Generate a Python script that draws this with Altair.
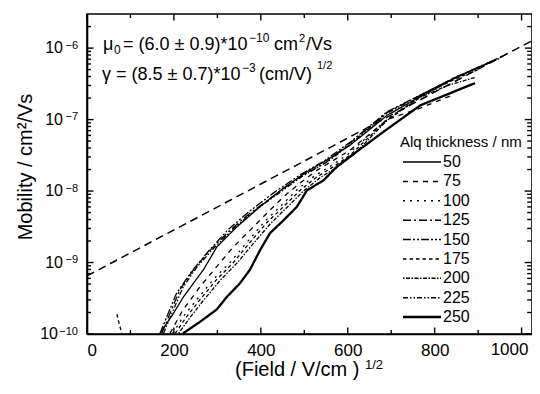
import altair as alt
import pandas as pd

FONT = "Liberation Sans"

thickness = ["50", "75", "100", "125", "150", "175", "200", "225", "250"]

field_50 = [168, 199, 222, 245, 268, 299, 345, 398, 452, 506, 559, 605, 691, 767, 843, 940]
mu_50 = [1.02e-10, 1.95e-10, 3.31e-10, 5.13e-10, 7.94e-10, 1.66e-9, 3.16e-9, 6.03e-9, 1.1e-8, 1.86e-8, 2.88e-8, 4.37e-8, 1.15e-7, 2.1e-7, 3.7e-7, 6.9e-7]

field_75 = [191, 221, 260, 298, 337, 375, 414, 452, 490, 529, 567, 605, 691, 767, 836]
mu_75 = [1.02e-10, 2.19e-10, 4.57e-10, 8.71e-10, 1.66e-9, 2.82e-9, 4.9e-9, 8.3e-9, 1.29e-8, 1.95e-8, 2.69e-8, 3.72e-8, 1.0e-7, 1.45e-7, 2.14e-7]

field_100 = [197, 223, 254, 292, 331, 369, 408, 446, 484, 523, 561, 600, 691, 767, 843, 921, 960]
mu_100 = [1.02e-10, 1.8e-10, 3.1e-10, 5.9e-10, 1.03e-9, 1.95e-9, 3.7e-9, 6.2e-9, 1.05e-8, 1.62e-8, 2.25e-8, 3.25e-8, 1.02e-7, 2.12e-7, 3.65e-7, 6.05e-7, 7.9e-7]

field_125 = [172, 214, 245, 283, 329, 375, 437, 490, 552, 605, 691, 767, 843, 921, 967]
mu_125 = [1.02e-10, 4.2e-10, 7.9e-10, 1.48e-9, 2.82e-9, 4.9e-9, 9.3e-9, 1.58e-8, 2.57e-8, 4.68e-8, 1.26e-7, 2.19e-7, 3.8e-7, 6.17e-7, 8.3e-7]

field_150 = [168, 205, 240, 280, 325, 372, 430, 488, 548, 605, 690, 770, 850, 950]
mu_150 = [1.02e-10, 3.6e-10, 7.4e-10, 1.45e-9, 2.9e-9, 5.1e-9, 9.5e-9, 1.65e-8, 2.7e-8, 4.8e-8, 1.28e-7, 2.25e-7, 3.95e-7, 7.2e-7]

field_175 = [203, 229, 260, 298, 337, 375, 414, 452, 490, 529, 567, 605, 691, 767, 843, 900]
mu_175 = [1.02e-10, 1.74e-10, 3.02e-10, 5.75e-10, 1.0e-9, 1.91e-9, 3.63e-9, 6.03e-9, 1.02e-8, 1.58e-8, 2.19e-8, 3.16e-8, 1.0e-7, 2.08e-7, 3.6e-7, 5.0e-7]
field_175_low = [69, 72, 76, 80, 83]
mu_175_low = [1.9e-10, 1.55e-10, 1.25e-10, 1.05e-10, 0.9e-10]

field_200 = [211, 237, 268, 306, 345, 383, 422, 460, 498, 537, 575, 613, 691, 767, 830, 893]
mu_200 = [1.02e-10, 1.7e-10, 2.95e-10, 5.6e-10, 9.8e-10, 1.85e-9, 3.5e-9, 5.9e-9, 1.0e-8, 1.55e-8, 2.15e-8, 3.2e-8, 9.8e-8, 2.05e-7, 3.0e-7, 3.89e-7]

field_225 = [176, 220, 252, 290, 335, 380, 440, 495, 555, 605, 690, 765, 840, 930]
mu_225 = [1.02e-10, 4.4e-10, 8.5e-10, 1.55e-9, 2.9e-9, 5.0e-9, 9.2e-9, 1.6e-8, 2.6e-8, 4.5e-8, 1.22e-7, 2.15e-7, 3.7e-7, 6.4e-7]

field_250 = [221, 260, 298, 322, 352, 375, 398, 421, 452, 483, 506, 544, 575, 605, 680, 767, 840, 893]
mu_250 = [1.02e-10, 1.48e-10, 2.19e-10, 3.31e-10, 5.13e-10, 7.94e-10, 1.48e-9, 2.57e-9, 3.89e-9, 6.03e-9, 1.02e-8, 1.41e-8, 2.19e-8, 3.02e-8, 6.6e-8, 1.58e-7, 2.4e-7, 3.24e-7]

fit_field = [0, 1040]
fit_mu = [6.5e-10, 1.43e-6]

x_major = [0, 200, 400, 600, 800, 1000]
x_last_label = [1000]
x_minor = [100, 300, 500, 700, 900]
y_major = [1e-10, 1e-9, 1e-8, 1e-7, 1e-6]
y_exponent = ["−10", "−9", "−8", "−7", "−6"]
y_minor = [m * 10.0 ** e for e in range(-10, -6) for m in range(2, 10)] + [2e-6]

series = [
    ("50", "50", field_50, mu_50),
    ("75", "75", field_75, mu_75),
    ("100", "100", field_100, mu_100),
    ("125", "125", field_125, mu_125),
    ("150", "150", field_150, mu_150),
    ("175", "175", field_175, mu_175),
    ("175", "175b", field_175_low, mu_175_low),
    ("200", "200", field_200, mu_200),
    ("225", "225", field_225, mu_225),
    ("250", "250", field_250, mu_250),
]
rows = []
for t, seg, xs_, ys_ in series:
    for a, b in zip(xs_, ys_):
        rows.append({"t": t, "seg": seg, "x": a, "mu": b})
df = pd.DataFrame(rows)
fit_df = pd.DataFrame({"x": fit_field, "mu": fit_mu})
xmaj_df = pd.DataFrame({"v": x_major})
xlast_df = pd.DataFrame({"v": x_last_label, "lab": [str(v) for v in x_last_label]})
xmin_df = pd.DataFrame({"v": x_minor})
ymaj_df = pd.DataFrame({"v": y_major, "exp": y_exponent})
ymin_df = pd.DataFrame({"v": y_minor})

W, H = 445, 320
xscale = alt.Scale(domain=[0, 1024], nice=False, zero=False)
yscale = alt.Scale(type="log", domain=[1e-10, 3e-6], nice=False)

dashes = [[1, 0], [5, 5], [2, 5], [8, 3, 2, 3], [8, 2, 2, 2, 2, 2], [3.5, 3], [1.5, 1.5, 4, 1.5], [5, 2, 1.5, 2, 1.5, 2], [1, 0]]
widths = [1.3] * 8 + [2.3]
dash_scale = alt.Scale(domain=thickness, range=dashes)

main_x_axis = alt.Axis(orient="bottom", values=x_major, ticks=False, labelFontSize=17, labelPadding=8,
                       labelFont=FONT, labelColor="black", domainColor="black", domainWidth=1.6,
                       title=None, grid=False, format="d",
                       labelExpr="datum.value == 1000 ? '' : datum.label")
main_y_axis = alt.Axis(orient="left", values=y_major, ticks=False, labels=False, domainColor="black",
                       domainWidth=1.6, title=None, grid=False)

base = alt.Chart(df)
lines_thin = base.transform_filter("datum.t != '250'").mark_line(color="black", strokeWidth=1.3, clip=True).encode(
    x=alt.X("x:Q", scale=xscale, axis=main_x_axis),
    y=alt.Y("mu:Q", scale=yscale, axis=main_y_axis),
    strokeDash=alt.StrokeDash("t:N", scale=dash_scale, legend=None),
    detail="seg:N",
)
lines_thick = base.transform_filter("datum.t == '250'").mark_line(color="black", strokeWidth=2.3, clip=True).encode(
    x=alt.X("x:Q", scale=xscale, axis=None),
    y=alt.Y("mu:Q", scale=yscale, axis=None),
    strokeDash=alt.StrokeDash("t:N", scale=dash_scale, legend=None),
    detail="seg:N",
)
fit = alt.Chart(fit_df).mark_line(color="black", strokeWidth=1.5, strokeDash=[8, 5], clip=True).encode(
    x=alt.X("x:Q", scale=xscale, axis=None),
    y=alt.Y("mu:Q", scale=yscale, axis=None),
)


def xticks(d, y0, y1):
    return alt.Chart(d).mark_rule(color="black", strokeWidth=1.4).encode(
        x=alt.X("v:Q", scale=xscale, axis=None), y=alt.value(y0), y2=alt.value(y1))


def yticks(d, x0, x1):
    return alt.Chart(d).mark_rule(color="black", strokeWidth=1.4).encode(
        y=alt.Y("v:Q", scale=yscale, axis=None), x=alt.value(x0), x2=alt.value(x1))


tick_layers = [
    xticks(xmaj_df, H, H - 6.5), xticks(xmin_df, H, H - 4),
    xticks(xmaj_df, 0, 6.5), xticks(xmin_df, 0, 4),
    yticks(ymaj_df, 0, 6.5), yticks(ymin_df, 0, 4),
    yticks(ymaj_df, W - 0.8, W - 7.3), yticks(ymin_df, W - 0.8, W - 4.8),
]

one = alt.Data(values=[{}])

# last x label, nudged so it stays inside the picture
last_label = alt.Chart(xlast_df).mark_text(
    align="center", baseline="top", fontSize=17, font=FONT, color="black", dx=-12).encode(
    x=alt.X("v:Q", scale=xscale, axis=None), y=alt.value(H + 8), text="lab:N")

# y tick labels: "10" with a raised exponent
ten_a = alt.Chart(ymaj_df).transform_filter("datum.v < 5e-10").mark_text(
    text="10", align="right", baseline="middle", fontSize=16, font=FONT, color="black").encode(
    y=alt.Y("v:Q", scale=yscale, axis=None), x=alt.value(-29))
ten_b = alt.Chart(ymaj_df).transform_filter("datum.v >= 5e-10").mark_text(
    text="10", align="right", baseline="middle", fontSize=16, font=FONT, color="black").encode(
    y=alt.Y("v:Q", scale=yscale, axis=None), x=alt.value(-24))
exps = alt.Chart(ymaj_df).mark_text(
    align="right", baseline="alphabetic", fontSize=11, font=FONT, color="black", dy=0.5).encode(
    y=alt.Y("v:Q", scale=yscale, axis=None), x=alt.value(-9), text="exp:N")


def txt(s, x, y, size, align="left", baseline="alphabetic", angle=0):
    return alt.Chart(one).mark_text(text=s, fontSize=size, font=FONT, align=align, baseline=baseline,
                                    angle=angle, color="black").encode(x=alt.value(x), y=alt.value(y))


legend_layers = [txt("Alq thickness / nm", 313, 133, 15)]
for i, t in enumerate(thickness):
    yy = 148 + i * 19.375
    legend_layers.append(
        alt.Chart(one).mark_rule(color="black", strokeDash=dashes[i], strokeWidth=widths[i] + 0.2).encode(
            x=alt.value(316), x2=alt.value(354), y=alt.value(yy))
    )
    legend_layers.append(txt(t, 356, yy, 16, baseline="middle"))

texts = [
    txt("μ", 16, 36, 18), txt("0", 27, 40, 12),
    txt("= (6.0 ± 0.9)*10", 36, 36, 18), txt("−10", 162, 28, 12),
    txt("cm", 187, 36, 18), txt("2", 212, 28, 11), txt("/Vs", 219, 36, 18),
    txt("γ", 15, 66, 18),
    txt("= (8.5 ± 0.7)*10", 29, 66, 18), txt("−3", 155, 58, 12),
    txt("(cm/V)", 172, 66, 18), txt("1/2", 230, 55, 11),
    txt("(Field / V/cm )", 148, 362, 20), txt("1/2", 278, 355, 13),
    txt("Mobility / cm²/Vs", -55, 153, 20, align="center", angle=270),
]

chart = alt.layer(
    lines_thin, lines_thick, fit, *tick_layers, last_label, ten_a, ten_b, exps, *legend_layers, *texts
).resolve_axis(x="independent", y="independent").properties(
    width=W, height=H,
    autosize=alt.AutoSizeParams(type="none"),
    padding={"left": 79, "top": 6, "right": 0, "bottom": 46},
).configure_view(stroke="black", strokeWidth=1.6)

chart.save("out.html", embed_options={"renderer": "svg", "actions": False})
